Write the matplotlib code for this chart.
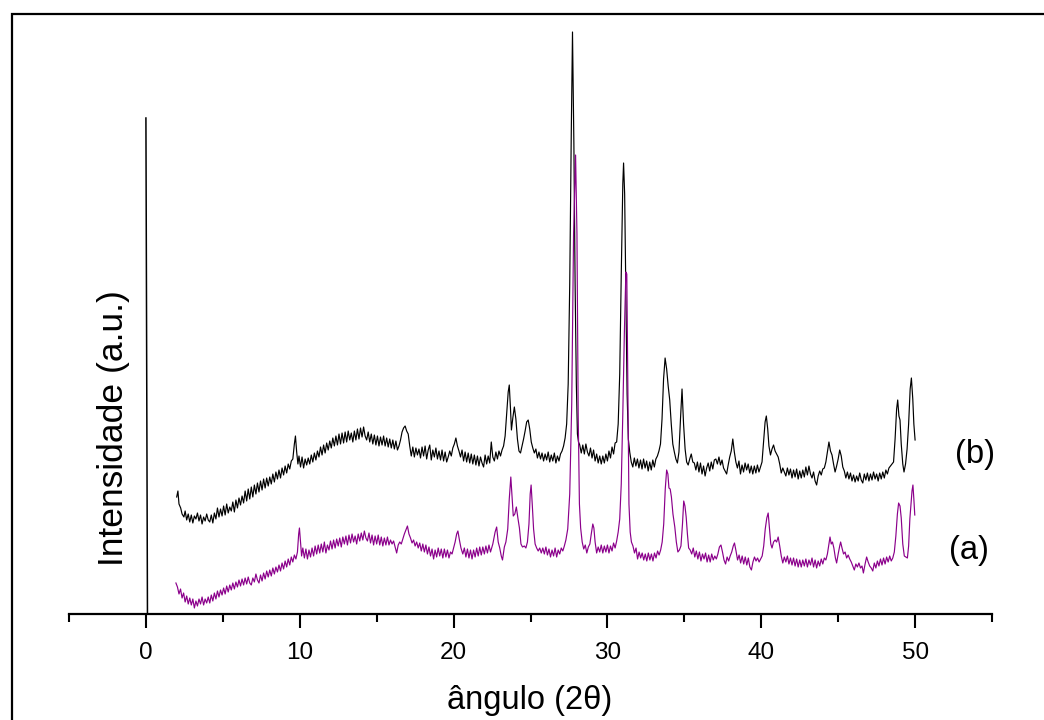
import matplotlib
matplotlib.use("Agg")
import matplotlib.pyplot as plt
from matplotlib.patches import Rectangle

plt.rcParams['font.family'] = ['Liberation Sans', 'DejaVu Sans']

# amostra (b) - curva preta
b_x = [2.0, 2.08, 2.15, 2.26, 2.35, 2.47, 2.55, 2.65, 2.75, 2.85, 2.95, 3.05, 3.15, 3.25, 3.35, 3.45, 3.55, 3.65, 3.75, 3.85,
       3.95, 4.05, 4.15, 4.25, 4.35, 4.45, 4.55, 4.65, 4.75, 4.85, 4.95, 5.05, 5.15, 5.25, 5.35, 5.45, 5.55, 5.65, 5.75, 5.85,
       5.95, 6.05, 6.15, 6.25, 6.35, 6.45, 6.55, 6.65, 6.75, 6.85, 6.95, 7.05, 7.15, 7.25, 7.35, 7.45, 7.55, 7.65, 7.75, 7.85,
       7.95, 8.05, 8.15, 8.25, 8.35, 8.45, 8.55, 8.65, 8.75, 8.85, 8.95, 9.05, 9.15, 9.25, 9.35, 9.45, 9.55, 9.65, 9.72, 9.8,
       9.88, 9.95, 10.05, 10.15, 10.25, 10.35, 10.45, 10.55, 10.65, 10.75, 10.85, 10.95, 11.05, 11.15, 11.25, 11.35, 11.45, 11.55, 11.65, 11.75,
       11.85, 11.95, 12.05, 12.15, 12.25, 12.35, 12.45, 12.55, 12.65, 12.75, 12.85, 12.95, 13.05, 13.15, 13.25, 13.35, 13.45, 13.55, 13.65, 13.75,
       13.85, 13.95, 14.05, 14.15, 14.25, 14.35, 14.45, 14.55, 14.65, 14.75, 14.85, 14.95, 15.05, 15.15, 15.25, 15.35, 15.45, 15.55, 15.65, 15.75,
       15.85, 15.95, 16.05, 16.15, 16.25, 16.35, 16.45, 16.55, 16.65, 16.75, 16.85, 16.95, 17.05, 17.15, 17.25, 17.35, 17.45, 17.55, 17.65, 17.75,
       17.85, 17.95, 18.05, 18.15, 18.25, 18.35, 18.45, 18.55, 18.65, 18.75, 18.85, 18.95, 19.05, 19.15, 19.25, 19.35, 19.45, 19.55, 19.65, 19.75,
       19.85, 19.95, 20.05, 20.15, 20.25, 20.35, 20.45, 20.55, 20.65, 20.75, 20.85, 20.95, 21.05, 21.15, 21.25, 21.35, 21.45, 21.55, 21.65, 21.75,
       21.85, 21.95, 22.05, 22.15, 22.25, 22.35, 22.45, 22.55, 22.65, 22.75, 22.85, 22.95, 23.05, 23.15, 23.25, 23.35, 23.45, 23.55, 23.62, 23.7,
       23.76, 23.85, 23.95, 24.05, 24.15, 24.25, 24.35, 24.45, 24.55, 24.65, 24.75, 24.85, 24.95, 25.05, 25.15, 25.25, 25.35, 25.45, 25.55, 25.65,
       25.75, 25.85, 25.95, 26.05, 26.15, 26.25, 26.35, 26.45, 26.55, 26.65, 26.75, 26.85, 26.95, 27.05, 27.15, 27.25, 27.35, 27.45, 27.55, 27.65,
       27.73, 27.82, 27.9, 27.98, 28.05, 28.12, 28.2, 28.3, 28.4, 28.5, 28.6, 28.7, 28.8, 28.9, 29.0, 29.1, 29.2, 29.3, 29.4, 29.5,
       29.6, 29.7, 29.8, 29.9, 30.0, 30.1, 30.2, 30.3, 30.4, 30.5, 30.6, 30.7, 30.8, 30.9, 31.0, 31.05, 31.12, 31.2, 31.28, 31.36,
       31.45, 31.55, 31.65, 31.75, 31.85, 31.95, 32.05, 32.15, 32.25, 32.35, 32.45, 32.55, 32.65, 32.75, 32.85, 32.95, 33.05, 33.15, 33.25, 33.35,
       33.45, 33.55, 33.65, 33.75, 33.85, 33.95, 34.05, 34.15, 34.25, 34.35, 34.45, 34.55, 34.65, 34.75, 34.85, 34.95, 35.05, 35.15, 35.25, 35.35,
       35.45, 35.55, 35.65, 35.75, 35.85, 35.95, 36.05, 36.15, 36.25, 36.35, 36.45, 36.55, 36.65, 36.75, 36.85, 36.95, 37.05, 37.15, 37.25, 37.35,
       37.45, 37.55, 37.65, 37.75, 37.85, 37.95, 38.05, 38.15, 38.25, 38.35, 38.45, 38.55, 38.65, 38.75, 38.85, 38.95, 39.05, 39.15, 39.25, 39.35,
       39.45, 39.55, 39.65, 39.75, 39.85, 39.95, 40.05, 40.15, 40.25, 40.33, 40.42, 40.5, 40.6, 40.7, 40.8, 40.9, 41.0, 41.1, 41.2, 41.3,
       41.4, 41.5, 41.6, 41.7, 41.8, 41.9, 42.0, 42.1, 42.2, 42.3, 42.4, 42.5, 42.6, 42.7, 42.8, 42.9, 43.0, 43.1, 43.2, 43.3,
       43.4, 43.5, 43.6, 43.7, 43.8, 43.9, 44.0, 44.1, 44.2, 44.3, 44.4, 44.5, 44.6, 44.7, 44.8, 44.9, 45.0, 45.1, 45.2, 45.3,
       45.4, 45.5, 45.6, 45.7, 45.8, 45.9, 46.0, 46.1, 46.2, 46.3, 46.4, 46.5, 46.6, 46.7, 46.8, 46.9, 47.0, 47.1, 47.2, 47.3,
       47.4, 47.5, 47.6, 47.7, 47.8, 47.9, 48.0, 48.1, 48.2, 48.3, 48.4, 48.5, 48.6, 48.7, 48.8, 48.87, 48.95, 49.02, 49.1, 49.2,
       49.28, 49.38, 49.48, 49.58, 49.68, 49.76, 49.85, 49.92, 50.0]
b_y = [117, 123, 110, 106, 100, 97, 103, 94, 100, 92, 99, 91, 98, 95, 101, 93, 99, 90, 97, 93,
       100, 94, 92, 99, 91, 101, 95, 106, 97, 105, 98, 108, 99, 110, 101, 107, 103, 112, 102, 114,
       106, 116, 109, 118, 111, 123, 113, 125, 115, 127, 117, 129, 120, 131, 122, 133, 124, 135, 126, 136,
       128, 137, 130, 140, 132, 142, 135, 144, 136, 146, 139, 148, 141, 150, 145, 153, 155, 170, 178, 162,
       150, 158, 147, 157, 146, 155, 149, 156, 150, 159, 152, 161, 154, 163, 157, 167, 159, 169, 161, 171,
       164, 173, 166, 176, 168, 178, 169, 180, 170, 181, 171, 182, 172, 183, 174, 181, 172, 183, 174, 185,
       175, 186, 177, 187, 178, 174, 182, 172, 180, 170, 179, 169, 178, 168, 177, 169, 178, 168, 176, 167,
       175, 166, 174, 165, 173, 164, 168, 174, 182, 186, 188, 183, 180, 168, 158, 167, 157, 166, 159, 165,
       156, 167, 158, 168, 155, 164, 169, 154, 164, 157, 166, 155, 163, 154, 164, 153, 162, 152, 157, 163,
       158, 166, 170, 176, 168, 163, 157, 164, 153, 162, 152, 161, 151, 160, 150, 159, 149, 158, 148, 157,
       151, 147, 159, 150, 158, 151, 172, 157, 153, 162, 155, 163, 158, 164, 168, 178, 200, 222, 229, 205,
       184, 196, 207, 195, 175, 163, 161, 168, 175, 183, 192, 194, 185, 172, 166, 161, 165, 156, 162, 155,
       161, 153, 160, 154, 162, 152, 159, 153, 161, 151, 158, 153, 160, 163, 168, 176, 190, 230, 330, 480,
       582, 470, 330, 230, 180, 172, 169, 161, 169, 160, 170, 162, 158, 166, 156, 164, 153, 160, 151, 158,
       150, 158, 151, 160, 153, 163, 156, 167, 160, 171, 172, 190, 240, 340, 430, 451, 420, 320, 220, 175,
       162, 152, 147, 156, 148, 155, 146, 154, 145, 155, 146, 153, 143, 152, 144, 154, 147, 155, 158, 163,
       170, 195, 235, 256, 245, 228, 214, 190, 170, 162, 155, 151, 162, 195, 225, 190, 165, 152, 149, 155,
       160, 152, 151, 144, 152, 142, 151, 140, 148, 138, 146, 151, 143, 152, 145, 154, 155, 150, 157, 149,
       154, 146, 143, 140, 149, 157, 163, 175, 162, 152, 146, 153, 140, 149, 142, 151, 144, 150, 141, 148,
       140, 148, 141, 149, 142, 147, 152, 172, 192, 198, 185, 168, 159, 165, 169, 163, 160, 157, 150, 141,
       146, 142, 138, 146, 139, 145, 136, 144, 137, 145, 135, 143, 136, 144, 137, 147, 139, 148, 140, 136,
       142, 133, 129, 138, 143, 139, 145, 146, 152, 162, 172, 163, 159, 150, 142, 148, 155, 164, 158, 147,
       143, 136, 142, 135, 141, 133, 139, 132, 138, 133, 141, 134, 131, 140, 134, 141, 133, 140, 134, 142,
       135, 140, 133, 141, 135, 142, 136, 144, 140, 146, 148, 150, 152, 175, 205, 214, 198, 194, 170, 150,
       142, 150, 165, 190, 225, 236, 215, 190, 174]

# amostra (a) - curva roxa
a_x = [1.95, 2.05, 2.15, 2.25, 2.35, 2.45, 2.55, 2.65, 2.75, 2.85, 2.95, 3.05, 3.15, 3.25, 3.35, 3.45, 3.55, 3.65, 3.75, 3.85,
       3.95, 4.05, 4.15, 4.25, 4.35, 4.45, 4.55, 4.65, 4.75, 4.85, 4.95, 5.05, 5.15, 5.25, 5.35, 5.45, 5.55, 5.65, 5.75, 5.85,
       5.95, 6.05, 6.15, 6.25, 6.35, 6.45, 6.55, 6.65, 6.75, 6.85, 6.95, 7.05, 7.15, 7.25, 7.35, 7.45, 7.55, 7.65, 7.75, 7.85,
       7.95, 8.05, 8.15, 8.25, 8.35, 8.45, 8.55, 8.65, 8.75, 8.85, 8.95, 9.05, 9.15, 9.25, 9.35, 9.45, 9.55, 9.65, 9.75, 9.85,
       9.93, 9.98, 10.05, 10.12, 10.2, 10.3, 10.4, 10.5, 10.6, 10.7, 10.8, 10.9, 11.0, 11.1, 11.2, 11.3, 11.4, 11.5, 11.6, 11.7,
       11.8, 11.9, 12.0, 12.1, 12.2, 12.3, 12.4, 12.5, 12.6, 12.7, 12.8, 12.9, 13.0, 13.1, 13.2, 13.3, 13.4, 13.5, 13.6, 13.7,
       13.8, 13.9, 14.0, 14.1, 14.2, 14.3, 14.4, 14.5, 14.6, 14.7, 14.8, 14.9, 15.0, 15.1, 15.2, 15.3, 15.4, 15.5, 15.6, 15.7,
       15.8, 15.9, 16.0, 16.1, 16.2, 16.3, 16.4, 16.5, 16.6, 16.7, 16.8, 16.9, 17.0, 17.1, 17.2, 17.3, 17.4, 17.5, 17.6, 17.7,
       17.8, 17.9, 18.0, 18.1, 18.2, 18.3, 18.4, 18.5, 18.6, 18.7, 18.8, 18.9, 19.0, 19.1, 19.2, 19.3, 19.4, 19.5, 19.6, 19.7,
       19.8, 19.9, 20.0, 20.1, 20.2, 20.28, 20.38, 20.48, 20.6, 20.7, 20.8, 20.9, 21.0, 21.1, 21.2, 21.3, 21.4, 21.5, 21.6, 21.7,
       21.8, 21.9, 22.0, 22.1, 22.2, 22.3, 22.4, 22.55, 22.7, 22.8, 22.9, 23.0, 23.1, 23.18, 23.3, 23.4, 23.52, 23.62, 23.72, 23.8,
       23.88, 23.98, 24.08, 24.18, 24.28, 24.38, 24.48, 24.6, 24.7, 24.8, 24.9, 24.98, 25.04, 25.12, 25.2, 25.3, 25.4, 25.5, 25.6, 25.7,
       25.8, 25.9, 26.0, 26.1, 26.2, 26.3, 26.4, 26.5, 26.6, 26.7, 26.8, 26.9, 27.0, 27.1, 27.2, 27.3, 27.42, 27.55, 27.68, 27.8,
       27.93, 28.02, 28.1, 28.18, 28.26, 28.36, 28.46, 28.56, 28.66, 28.76, 28.86, 28.95, 29.05, 29.12, 29.2, 29.3, 29.4, 29.5, 29.6, 29.7,
       29.8, 29.9, 30.0, 30.1, 30.2, 30.3, 30.4, 30.5, 30.6, 30.7, 30.8, 30.9, 31.0, 31.1, 31.2, 31.26, 31.33, 31.4, 31.48, 31.56,
       31.66, 31.76, 31.86, 31.96, 32.06, 32.16, 32.26, 32.36, 32.46, 32.56, 32.66, 32.76, 32.86, 32.96, 33.06, 33.16, 33.26, 33.36, 33.46, 33.56,
       33.66, 33.76, 33.85, 33.93, 34.0, 34.08, 34.16, 34.26, 34.38, 34.48, 34.58, 34.68, 34.78, 34.88, 34.96, 35.04, 35.12, 35.2, 35.28, 35.38,
       35.48, 35.58, 35.68, 35.78, 35.88, 35.98, 36.08, 36.18, 36.28, 36.38, 36.48, 36.58, 36.68, 36.78, 36.88, 36.98, 37.08, 37.18, 37.28, 37.38,
       37.48, 37.58, 37.68, 37.78, 37.88, 37.98, 38.08, 38.18, 38.26, 38.36, 38.46, 38.56, 38.66, 38.76, 38.86, 38.96, 39.06, 39.16, 39.26, 39.36,
       39.46, 39.56, 39.66, 39.76, 39.86, 39.96, 40.06, 40.16, 40.26, 40.36, 40.45, 40.54, 40.62, 40.7, 40.8, 40.9, 41.0, 41.1, 41.2, 41.3,
       41.4, 41.5, 41.6, 41.7, 41.8, 41.9, 42.0, 42.1, 42.2, 42.3, 42.4, 42.5, 42.6, 42.7, 42.8, 42.9, 43.0, 43.1, 43.2, 43.3,
       43.4, 43.5, 43.6, 43.7, 43.8, 43.9, 44.0, 44.1, 44.2, 44.3, 44.4, 44.47, 44.55, 44.63, 44.72, 44.82, 44.9, 45.0, 45.1, 45.16,
       45.25, 45.35, 45.45, 45.55, 45.65, 45.75, 45.85, 45.95, 46.05, 46.15, 46.25, 46.35, 46.45, 46.55, 46.64, 46.75, 46.85, 46.95, 47.05, 47.15,
       47.25, 47.35, 47.45, 47.55, 47.65, 47.75, 47.85, 47.95, 48.05, 48.15, 48.25, 48.35, 48.45, 48.55, 48.65, 48.75, 48.85, 48.93, 49.02, 49.1,
       49.2, 49.3, 49.4, 49.5, 49.58, 49.66, 49.72, 49.8, 49.86, 49.92, 49.98]
a_y = [31, 27, 20, 25, 16, 21, 12, 18, 10, 16, 9, 15, 6, 13, 8, 15, 10, 17, 9, 15,
       11, 17, 11, 19, 13, 21, 15, 23, 17, 24, 19, 26, 20, 28, 22, 29, 24, 31, 25, 32,
       27, 34, 28, 35, 29, 36, 30, 37, 31, 29, 36, 32, 40, 34, 31, 39, 33, 41, 35, 43,
       37, 44, 38, 46, 40, 47, 42, 49, 43, 51, 45, 53, 47, 55, 49, 57, 52, 59, 55, 62,
       80, 86, 72, 58, 66, 56, 65, 55, 64, 57, 66, 58, 68, 60, 69, 61, 70, 62, 72, 61,
       69, 64, 73, 65, 74, 66, 75, 68, 76, 67, 77, 70, 78, 69, 79, 71, 80, 72, 78, 70,
       80, 73, 81, 74, 83, 76, 73, 81, 71, 79, 69, 78, 70, 79, 69, 77, 68, 76, 69, 77,
       69, 74, 70, 73, 67, 61, 69, 72, 70, 75, 80, 84, 88, 80, 76, 71, 74, 68, 72, 66,
       71, 63, 70, 62, 69, 60, 67, 58, 65, 55, 64, 57, 66, 58, 65, 56, 65, 57, 64, 56,
       62, 60, 66, 72, 80, 83, 74, 66, 60, 66, 57, 65, 56, 64, 55, 64, 57, 66, 58, 67,
       59, 67, 60, 68, 61, 69, 62, 70, 82, 87, 72, 66, 58, 54, 67, 72, 85, 115, 137, 118,
       98, 100, 107, 96, 86, 70, 67, 68, 66, 72, 90, 120, 129, 108, 85, 70, 66, 63, 66, 61,
       66, 60, 67, 59, 65, 57, 64, 58, 66, 57, 64, 60, 66, 63, 68, 74, 85, 120, 210, 380,
       459, 380, 200, 110, 86, 72, 65, 69, 61, 67, 70, 80, 90, 86, 72, 61, 67, 62, 69, 61,
       68, 62, 69, 61, 68, 63, 71, 66, 73, 82, 95, 130, 200, 280, 342, 340, 220, 110, 82, 72,
       68, 61, 66, 55, 62, 56, 61, 54, 60, 53, 61, 54, 60, 53, 61, 56, 63, 59, 64, 72,
       90, 125, 144, 140, 126, 125, 117, 100, 87, 72, 62, 64, 68, 90, 113, 108, 97, 80, 66, 64,
       60, 66, 57, 63, 55, 62, 53, 60, 55, 61, 52, 59, 52, 60, 54, 58, 55, 60, 67, 69,
       62, 54, 50, 57, 53, 58, 62, 68, 71, 63, 54, 59, 51, 58, 50, 57, 49, 56, 47, 44,
       52, 57, 53, 56, 52, 55, 58, 68, 85, 96, 101, 84, 70, 66, 72, 74, 72, 77, 68, 58,
       51, 57, 52, 58, 50, 56, 49, 56, 48, 55, 47, 54, 47, 54, 48, 55, 47, 54, 49, 56,
       47, 54, 46, 53, 48, 55, 50, 56, 54, 60, 70, 77, 70, 72, 66, 56, 51, 60, 68, 72,
       66, 60, 62, 56, 59, 55, 52, 48, 44, 50, 47, 51, 46, 48, 41, 50, 57, 52, 48, 46,
       43, 51, 46, 53, 48, 55, 49, 56, 50, 57, 52, 58, 53, 56, 62, 78, 100, 111, 108, 96,
       70, 58, 57, 56, 68, 95, 107, 123, 129, 115, 99]

# linha vertical em 0 (artefacto do gráfico original)
v_x = [0.0, 0.1]
v_y = [496, 0]

fig = plt.figure(figsize=(10.44, 7.2), dpi=100)
ax = fig.add_axes([69 / 1044, 106 / 720, 923 / 1044, 600 / 720])

ax.plot(v_x, v_y, color='black', linewidth=1.1)
ax.plot(b_x, b_y, color='black', linewidth=0.85)
ax.plot(a_x, a_y, color='#8b008b', linewidth=0.85)

ax.set_xlim(-5, 55)
ax.set_ylim(0, 600)
ax.set_xticks([0, 10, 20, 30, 40, 50])
ax.set_xticks([-5, 5, 15, 25, 35, 45, 55], minor=True)
ax.tick_params(axis='x', which='major', length=10, width=1.5, labelsize=17.5, pad=10)
ax.tick_params(axis='x', which='minor', length=6, width=1.5)
ax.set_yticks([])
for s in ['left', 'right', 'top']:
    ax.spines[s].set_visible(False)
ax.spines['bottom'].set_linewidth(1.6)

ax.text(53.9, 159, '(b)', fontsize=23.5, ha='center', va='center')
ax.text(53.5, 64, '(a)', fontsize=23.5, ha='center', va='center')

fig.text(530 / 1044, 1 - 700 / 720, 'ângulo (2θ)', fontsize=23.5, ha='center', va='center')
fig.text(114 / 1044, 1 - 428 / 720, 'Intensidade (a.u.)', fontsize=25.5, rotation=90,
         ha='center', va='center')

# moldura da figura
fig.patches.append(Rectangle((12 / 1044, -0.05), 1.2, 1 - 14 / 720 + 0.05,
                             transform=fig.transFigure, fill=False,
                             edgecolor='black', linewidth=1.6))

fig.savefig('out.png', dpi=100)
